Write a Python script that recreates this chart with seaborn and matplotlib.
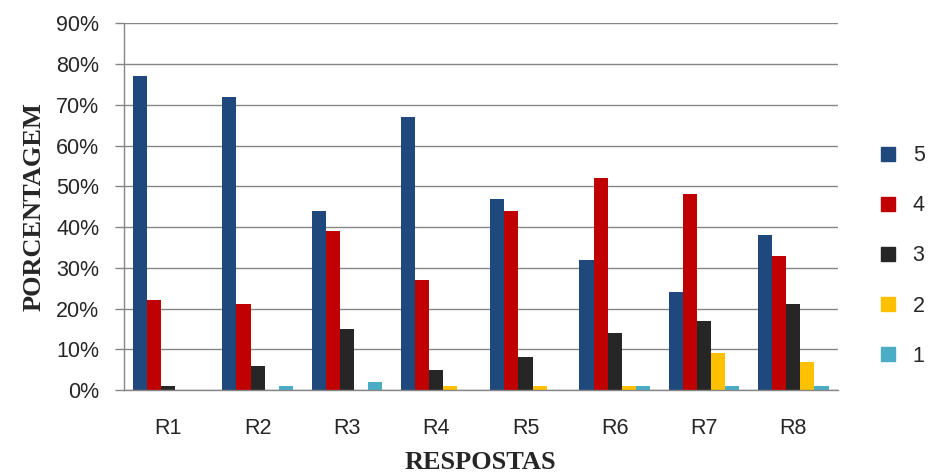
# Gráfico de barras agrupadas: porcentagem de respostas por nota (5 a 1)

import pandas as pd
import matplotlib
matplotlib.use('Agg')
import matplotlib.pyplot as plt
import matplotlib.patches as mpatches
import seaborn as sns

# dados
respostas = ['R1', 'R2', 'R3', 'R4', 'R5', 'R6', 'R7', 'R8']
notas = ['5', '4', '3', '2', '1']
nota5 = [77, 72, 44, 67, 47, 32, 24, 38]
nota4 = [22, 21, 39, 27, 44, 52, 48, 33]
nota3 = [1, 6, 15, 5, 8, 14, 17, 21]
nota2 = [0, 0, 0, 1, 1, 1, 9, 7]
nota1 = [0, 1, 2, 0, 0, 1, 1, 1]
cores = ['#1F497D', '#C00000', '#262626', '#FFC000', '#4BACC6']

# formato longo para o seaborn
df = pd.DataFrame({
    'resposta': respostas * 5,
    'nota': [n for n in notas for _ in respostas],
    'valor': nota5 + nota4 + nota3 + nota2 + nota1,
})

sns.set_style('white')
plt.rcParams['font.family'] = ['Liberation Sans', 'DejaVu Sans']

fig = plt.figure(figsize=(9.3, 4.74), dpi=100)
ax = fig.add_axes([0.133, 0.177, 0.768, 0.774])

sns.barplot(data=df, x='resposta', y='valor', hue='nota', hue_order=notas,
            palette=cores, width=0.79, saturation=1, linewidth=0,
            ax=ax, legend=False)

ax.set_ylim(0, 90)
ax.set_yticks(range(0, 91, 10))
ax.set_yticklabels([f'{v}%' for v in range(0, 91, 10)], fontsize=15.5)
ax.set_xticklabels(respostas, fontsize=15.5)
ax.tick_params(axis='y', length=6.5, width=1, color='#868686', pad=11, left=True)
ax.tick_params(axis='x', length=0, pad=20)

ax.yaxis.grid(True, color='#868686', linewidth=1)
ax.set_axisbelow(True)
for lado in ['top', 'right']:
    ax.spines[lado].set_visible(False)
for lado in ['left', 'bottom']:
    ax.spines[lado].set_color('#868686')
    ax.spines[lado].set_linewidth(1)

ax.set_xlabel('RESPOSTAS', fontsize=19, fontweight='bold',
              family='Liberation Serif', labelpad=9)
ax.set_ylabel('PORCENTAGEM', fontsize=19, fontweight='bold',
              family='Liberation Serif', labelpad=8)

# legenda à direita
handles = [mpatches.Patch(color=c, label=n) for c, n in zip(cores, notas)]
fig.legend(handles=handles, loc='center left', bbox_to_anchor=(0.927, 0.46),
           frameon=False, fontsize=15.5, labelspacing=1.35,
           handlelength=0.65, handleheight=0.65, handletextpad=0.8)

plt.savefig('out.png', dpi=100)
